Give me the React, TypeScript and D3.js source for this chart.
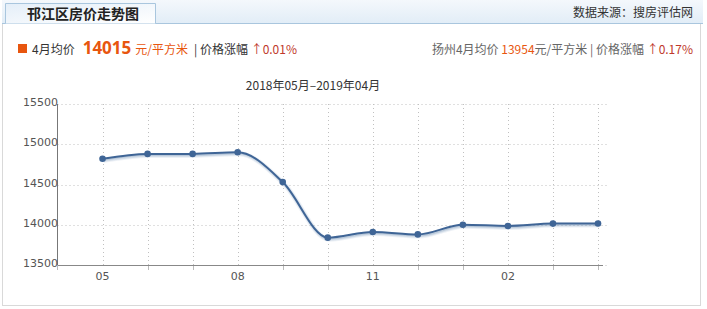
import React from "react";
import * as d3 from "d3";

const months = ["05", "06", "07", "08", "09", "10", "11", "12", "01", "02", "03", "04"];
const prices = [14820, 14880, 14880, 14900, 14530, 13840, 13910, 13880, 14000, 13985, 14014, 14015];
const labeledMonths = ["05", "08", "11", "02"];
const yTicks = [13500, 14000, 14500, 15000, 15500];

const cjk = "'Noto Sans CJK SC', 'Noto Sans', sans-serif";
const num = "'DejaVu Sans', sans-serif";
const orange = "#e8560f";
const red = "#c0392b";
const lineColor = "#3f6596";

export default function App() {
  const x = d3.scaleLinear().domain([-1, months.length - 1]).range([57.5, 598]);
  const y = d3.scaleLinear().domain([13500, 15500]).range([265, 104]);
  const pts: [number, number][] = prices.map((p, i) => [x(i), y(p)]);
  const line = d3.line().curve(d3.curveMonotoneX)(pts) || "";
  const left = x(-1);
  const right = 607;
  const axisRight = 603;

  return (
    <svg width={707} height={309} style={{ position: "absolute", left: 0, top: 0 }}>
      <defs>
        <linearGradient id="hdr" x1="0" y1="0" x2="0" y2="1">
          <stop offset="0" stopColor="#f4f8fc" />
          <stop offset="1" stopColor="#e2edf7" />
        </linearGradient>
        <linearGradient id="tab" x1="0" y1="0" x2="1" y2="1">
          <stop offset="0" stopColor="#e4eef8" />
          <stop offset="1" stopColor="#ffffff" />
        </linearGradient>
      </defs>
      <rect x={0} y={0} width={707} height={309} fill="#fff" />
      {/* outer frame */}
      <rect x={2.5} y={10.5} width={698} height={295} fill="#fff" stroke="#d9d9d9" />
      {/* header bar */}
      <rect x={2} y={0} width={701} height={23} fill="url(#hdr)" />
      <line x1={2} x2={703} y1={23.5} y2={23.5} stroke="#a9c6de" />
      <path d="M5.5,23.5 V3.5 H155.5 V23.5" fill="url(#tab)" stroke="#a9c6de" />
      <text x={27} y={19} fontFamily={cjk} fontSize={14} fontWeight="bold" fill="#222">
        邗江区房价走势图
      </text>
      <text x={693} y={17} textAnchor="end" fontFamily={cjk} fontSize={12} fill="#333">
        数据来源：搜房评估网
      </text>

      {/* summary line */}
      <rect x={18} y={44} width={9} height={9} fill={orange} />
      <text x={32} y={54} fontFamily={cjk} fontSize={12} fill="#333">
        4月均价
        <tspan dx={8} fontSize={17} fontWeight="bold" fill={orange} fontFamily={"'Open Sans', " + cjk}>14015</tspan>
        <tspan dx={4} fill={orange}>元/平方米</tspan>
        <tspan dx={6} fill="#333">| 价格涨幅 </tspan>
        <tspan fill={red}>↑0.01%</tspan>
      </text>
      <text x={693} y={54} textAnchor="end" fontFamily={cjk} fontSize={12} fill="#666">
        扬州4月均价 <tspan fill={orange}>13954</tspan>元/平方米 | 价格涨幅 <tspan fill={red}>↑0.17%</tspan>
      </text>

      {/* chart title */}
      <text x={313} y={90} textAnchor="middle" fontFamily={cjk} fontSize={12} fill="#333">
        2018年05月–2019年04月
      </text>

      {/* grid */}
      {yTicks.map((t) => (
        <line key={"h" + t} x1={left} x2={right} y1={Math.round(y(t)) + 0.5} y2={Math.round(y(t)) + 0.5}
          stroke="#c0c0c0" strokeDasharray="1,3" />
      ))}
      {months.map((m, i) => (
        <line key={"v" + m} x1={Math.round(x(i)) + 0.5} x2={Math.round(x(i)) + 0.5} y1={104} y2={265}
          stroke="#c0c0c0" strokeDasharray="1,3" />
      ))}

      {/* axes */}
      <line x1={left} x2={left} y1={104} y2={265} stroke="#777" />
      <line x1={left} x2={axisRight} y1={265.5} y2={265.5} stroke="#888" />
      <line x1={left} x2={left} y1={265} y2={270} stroke="#bbb" />
      {months.map((m, i) =>
        labeledMonths.includes(m) ? null : (
          <line key={"t" + m} x1={Math.round(x(i)) + 0.5} x2={Math.round(x(i)) + 0.5} y1={266} y2={270} stroke="#bbb" />
        )
      )}
      {yTicks.map((t) => (
        <text key={"yl" + t} x={58} y={y(t) + 2} textAnchor="end" fontFamily={num} fontSize={11} fill="#555">
          {t}
        </text>
      ))}
      {months.map((m, i) =>
        labeledMonths.includes(m) ? (
          <text key={"xl" + m} x={x(i)} y={280} textAnchor="middle" fontFamily={num} fontSize={11} fill="#555">
            {m}
          </text>
        ) : null
      )}

      {/* series shadow */}
      {[5, 3, 1].map((w, k) => (
        <path key={"s" + w} d={line} fill="none" stroke="#6f8fb5" strokeOpacity={0.12 + k * 0.08}
          strokeWidth={w} transform="translate(1,1.5)" strokeLinejoin="round" />
      ))}
      <path d={line} fill="none" stroke={lineColor} strokeWidth={2} strokeLinejoin="round" />
      {pts.map((p, i) => (
        <circle key={"c" + i} cx={p[0]} cy={p[1]} r={3.3} fill={lineColor} />
      ))}
    </svg>
  );
}
